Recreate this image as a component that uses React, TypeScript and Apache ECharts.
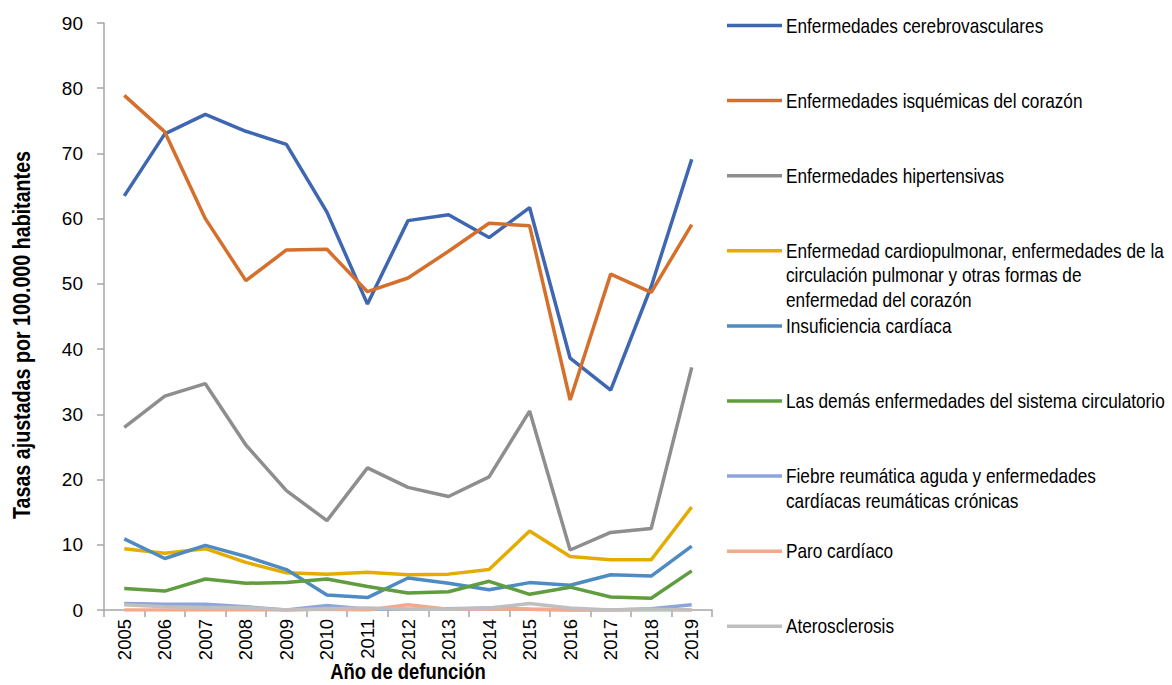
import React, { useEffect, useRef } from "react";
import * as echarts from "echarts";

const years = ["2005","2006","2007","2008","2009","2010","2011","2012","2013","2014","2015","2016","2017","2018","2019"];

const seriesNames = [
  "Enfermedades cerebrovasculares",
  "Enfermedades isquémicas del corazón",
  "Enfermedades hipertensivas",
  "Enfermedad cardiopulmonar, enfermedades de la\ncirculación pulmonar y otras formas de\nenfermedad del corazón",
  "Insuficiencia cardíaca",
  "Las demás enfermedades del sistema circulatorio",
  "Fiebre reumática aguda y enfermedades\ncardíacas reumáticas crónicas",
  "Paro cardíaco",
  "Aterosclerosis",
];

const seriesColors = ["#3F67B1", "#D5702C", "#8E8E8E", "#E5AC00", "#4E8BC3", "#5F9D3F", "#8EA5DB", "#F4A98C", "#BFBFBF"];

const cerebrovasculares = [63.5, 73.0, 76.0, 73.4, 71.4, 61.0, 46.9, 59.7, 60.6, 57.1, 61.7, 38.6, 33.7, 49.6, 69.1];
const isquemicas = [78.9, 73.3, 60.0, 50.5, 55.2, 55.3, 48.8, 50.9, 55.0, 59.3, 58.9, 32.2, 51.5, 48.7, 59.1];
const hipertensivas = [28.0, 32.8, 34.7, 25.3, 18.3, 13.7, 21.8, 18.8, 17.4, 20.4, 30.5, 9.2, 11.9, 12.5, 37.2];
const cardiopulmonar = [9.4, 8.7, 9.4, 7.3, 5.7, 5.5, 5.8, 5.4, 5.5, 6.2, 12.1, 8.2, 7.7, 7.7, 15.8];
const insuficiencia = [10.9, 7.9, 9.9, 8.2, 6.2, 2.3, 1.9, 4.9, 4.1, 3.1, 4.2, 3.8, 5.4, 5.2, 9.8];
const demas = [3.3, 2.9, 4.75, 4.1, 4.2, 4.75, 3.6, 2.6, 2.8, 4.4, 2.4, 3.5, 2.0, 1.8, 6.0];
const fiebre = [1.0, 0.9, 0.9, 0.5, 0.0, 0.7, 0.1, 0.1, 0.2, 0.3, 0.1, 0.0, 0.0, 0.2, 0.8];
const paro = [0.0, 0.0, 0.0, 0.0, 0.0, 0.1, 0.0, 0.8, 0.1, 0.2, 0.1, 0.0, 0.0, 0.0, 0.0];
const aterosclerosis = [0.8, 0.5, 0.4, 0.4, 0.0, 0.2, 0.3, 0.1, 0.1, 0.3, 1.0, 0.3, 0.0, 0.1, 0.0];

const seriesValues = [cerebrovasculares, isquemicas, hipertensivas, cardiopulmonar, insuficiencia, demas, fiebre, paro, aterosclerosis];

const yTicks = { min: 0, max: 90, interval: 10 };
const xAxisTitle = "Año de defunción";
const yAxisTitle = "Tasas ajustadas por 100.000 habitantes";

const FONT = "'Liberation Sans', Arial, sans-serif";
const NARROW = 0.82;

export default function App() {
  const ref = useRef<HTMLDivElement>(null);
  useEffect(() => {
    if (!ref.current) return;
    const chart = echarts.init(ref.current, null, { renderer: "svg" });

    const legendGraphics: any[] = [];
    seriesNames.forEach((name, i) => {
      const y = 25.5 + i * 75.1;
      legendGraphics.push({
        type: "line",
        shape: { x1: 727, y1: y, x2: 782, y2: y },
        style: { stroke: seriesColors[i], lineWidth: 3.5 },
      });
      legendGraphics.push({
        type: "text",
        x: 786,
        y: y - 12.3,
        scaleX: NARROW,
        style: {
          text: name,
          fill: "#000",
          font: `21px ${FONT}`,
          lineHeight: 24.6,
          verticalAlign: "top",
          align: "left",
        },
      });
    });

    chart.setOption({
      animation: false,
      backgroundColor: "#fff",
      grid: { left: 104, right: 460, top: 23, bottom: 75, containLabel: false },
      xAxis: {
        type: "category",
        data: years,
        boundaryGap: true,
        axisLine: { lineStyle: { color: "#A6A6A6", width: 1.5 } },
        axisTick: { show: true, length: 7, lineStyle: { color: "#A6A6A6", width: 1.5 } },
        axisLabel: { rotate: 90, margin: 9, color: "#000", fontSize: 18.5, fontFamily: FONT },
        splitLine: { show: false },
      },
      yAxis: {
        type: "value",
        min: yTicks.min,
        max: yTicks.max,
        interval: yTicks.interval,
        axisLine: { show: true, lineStyle: { color: "#A6A6A6", width: 1.5 } },
        axisTick: { show: true, length: 7, lineStyle: { color: "#A6A6A6", width: 1.5 } },
        axisLabel: { margin: 21, color: "#000", fontSize: 19, fontFamily: FONT },
        splitLine: { show: false },
      },
      series: seriesNames.map((name, i) => ({
        name,
        type: "line",
        data: seriesValues[i],
        symbol: "none",
        lineStyle: { color: seriesColors[i], width: 3.5 },
        itemStyle: { color: seriesColors[i] },
      })),
      graphic: [
        {
          type: "text",
          x: 408,
          y: 671,
          scaleX: NARROW,
          style: {
            text: xAxisTitle,
            fill: "#000",
            font: `bold 22.5px ${FONT}`,
            align: "center",
            verticalAlign: "middle",
          },
        },
        {
          type: "text",
          x: 22,
          y: 335,
          rotation: Math.PI / 2,
          scaleX: NARROW,
          style: {
            text: yAxisTitle,
            fill: "#000",
            font: `bold 24px ${FONT}`,
            align: "center",
            verticalAlign: "middle",
          },
        },
        ...legendGraphics,
      ],
    });
    return () => chart.dispose();
  }, []);
  return <div ref={ref} style={{ position: "absolute", left: 0, top: 0, width: 1172, height: 685 }} />;
}
